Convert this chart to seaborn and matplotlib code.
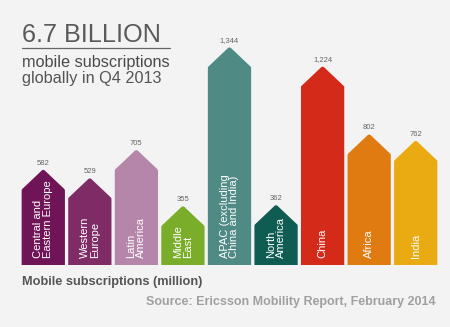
import matplotlib
matplotlib.use("Agg")
import matplotlib.pyplot as plt
import seaborn as sns
import pandas as pd
from matplotlib.patches import Polygon

regions = ["Central and\nEastern Europe", "Western\nEurope", "Latin\nAmerica", "Middle\nEast",
           "APAC (excluding\nChina and India)", "North\nAmerica", "China", "Africa", "India"]
values = [582, 529, 705, 355, 1344, 362, 1224, 802, 762]
value_labels = ["582", "529", "705", "355", "1,344", "362", "1,224", "802", "762"]
colors = ["#6e1457", "#7f2b66", "#b586aa", "#7aad2a", "#4f8b84", "#0f5c52", "#d42a1a", "#e07b12", "#e9aa12"]

df = pd.DataFrame({"region": regions, "value": values})

sns.set_theme(style="white")
plt.rcParams["font.family"] = ["Liberation Sans", "DejaVu Sans"]

W, H = 450, 327
fig = plt.figure(figsize=(W / 100, H / 100), dpi=100)
fig.patch.set_facecolor("#f3f3f3")
ax = fig.add_axes([20 / W, (H - 265) / H, 419 / W, 225 / H])
ax.set_facecolor("#f3f3f3")

sns.barplot(data=df, x="region", y="value", hue="region", palette=colors, legend=False,
            width=0.9, ax=ax, saturation=1)
ax.set_xlim(-0.5, len(values) - 0.5)
ax.set_ylim(0, 1400)
ax.axis("off")

px_per_unit = 225 / 1400
arrow_h = 19 / px_per_unit
for p, val, lab, c in zip(ax.patches, values, value_labels, colors):
    x0 = p.get_x()
    w = p.get_width()
    top = p.get_height()
    p.set_visible(False)
    shrink = 0.03
    xa, xb = x0 + shrink, x0 + w - shrink
    pts = [(xa, 1.5), (xb, 1.5), (xb, top - arrow_h), (x0 + w / 2, top - 3), (xa, top - arrow_h)]
    poly = Polygon(pts, closed=True, facecolor=c, edgecolor=c, linewidth=3, joinstyle="round")
    ax.add_patch(poly)
    ax.text(x0 + w / 2, top + 30, lab, ha="center", va="bottom", fontsize=5.5, color="#666666")

for i, r in enumerate(regions):
    ax.text(i, 42, r, rotation=90, rotation_mode="anchor", ha="left", va="center",
            multialignment="left", fontsize=8.0, color="white", linespacing=0.95)

fig.text(22 / W, 1 - 42 / H, "6.7 BILLION", fontsize=18.2, color="#5a5a5a", ha="left", va="baseline",
         family=["Liberation Sans", "DejaVu Sans"])
fig.add_artist(plt.Line2D([22 / W, 170 / W], [1 - 48 / H, 1 - 48 / H], color="#666666", lw=0.9))
fig.text(22 / W, 1 - 67 / H, "mobile subscriptions", fontsize=11.7, color="#4a4a4a", ha="left", va="baseline")
fig.text(22 / W, 1 - 83 / H, "globally in Q4 2013", fontsize=11.7, color="#555555", ha="left", va="baseline")
fig.text(22 / W, 1 - 285 / H, "Mobile subscriptions (million)", fontsize=9.2, color="#555555",
         ha="left", va="baseline", fontweight="bold")
fig.text(436 / W, 1 - 305 / H, "Source: Ericsson Mobility Report, February 2014", fontsize=9,
         color="#a0a0a0", ha="right", va="baseline", fontweight="bold")

fig.savefig("out.png", dpi=100, facecolor=fig.get_facecolor())
